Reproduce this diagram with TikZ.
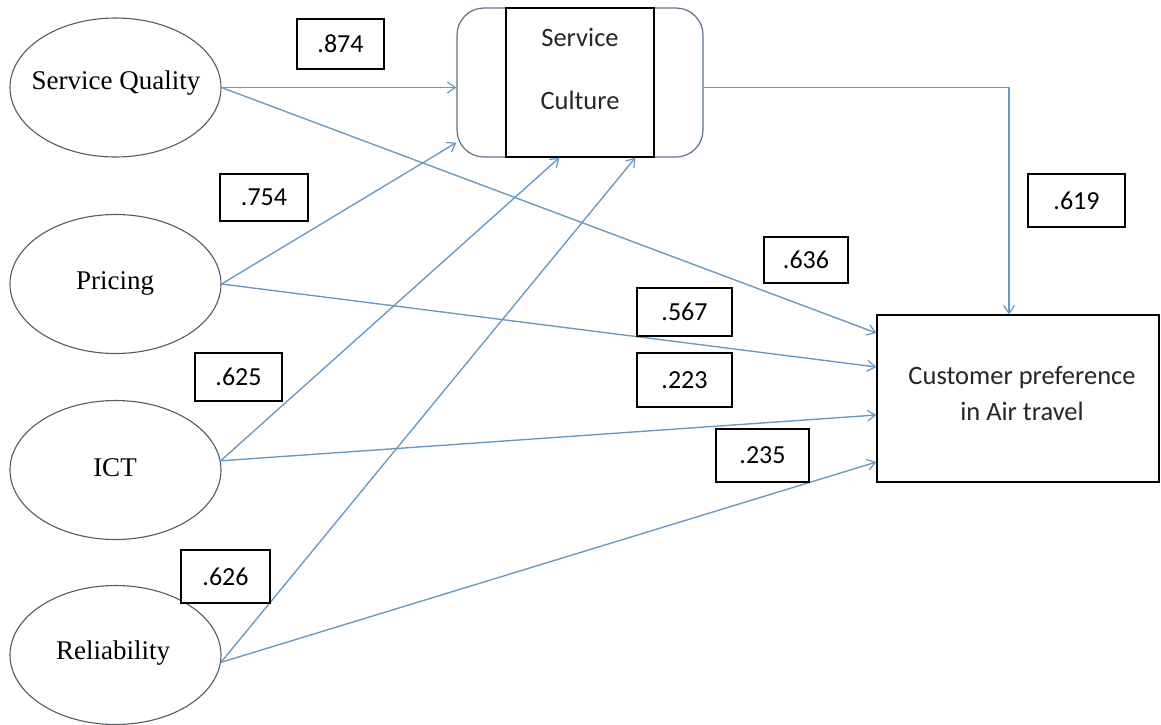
\documentclass[tikz,border=0pt]{standalone}
\usepackage{fontspec}
\setmainfont{Liberation Serif}
\newfontfamily\carl{Carlito}
\usetikzlibrary{shapes.geometric,arrows.meta,calc}
\definecolor{conncol}{RGB}{104,152,196}
\definecolor{ellcol}{RGB}{85,90,100}
\definecolor{sccol}{RGB}{95,115,140}
\begin{document}
\begin{tikzpicture}[x=1pt,y=-1pt,
  ell/.style={draw=ellcol,line width=1.1pt,ellipse,minimum width=211pt,minimum height=139pt,inner sep=0pt},
  elltext/.style={inner sep=0pt,font=\fontsize{27}{32}\selectfont},
  numbox/.style={draw=black,line width=1.3pt,fill=white,inner sep=0pt,font=\carl\fontsize{26}{30}\selectfont},
  lbl/.style={inner sep=0pt,font=\carl\fontsize{26.5}{30}\selectfont,text=black!85},
  conn/.style={draw=conncol,line width=1.35pt,-{Straight Barb[length=8pt,width=11pt,line width=1.2pt]}}
]
\useasboundingbox[fill=white] (0,0) rectangle (1161,724);

% ellipses
\node[ell] (sq)  at (115.5,87.5) {};
\node[ell] (pr)  at (115.5,284)  {};
\node[ell] (ict) at (115.5,470)  {};
\node[ell] (rel) at (115.5,655)  {};
\node[elltext] (sqt)  at (116,83)  {Service Quality};
\node[elltext] (prt)  at (115,283) {Pricing};
\node[elltext] (ictt) at (115,468) {ICT};
\node[elltext] (relt) at (113,653) {Reliability};

% service culture
\node[draw=sccol,line width=1.2pt,rounded corners=27pt,minimum width=246pt,minimum height=149pt,inner sep=0pt] (sc) at (580,82.5) {};
\node[draw=black,line width=1.3pt,minimum width=148pt,minimum height=149pt,inner sep=0pt] (sci) at (580,82.5) {};
\node[lbl] (sct1) at (580,37) {Service};
\node[lbl] (sct2) at (580,100) {Culture};

% customer preference
\node[draw=black,line width=1.3pt,minimum width=282pt,minimum height=167pt,inner sep=0pt] (cp) at (1018,398.5) {};
\node[lbl,align=center,font=\carl\fontsize{26.5}{36}\selectfont] (cpt) at (1022,394) {Customer preference\\in Air travel};

% connectors
\draw[conn] (sq.east) -- (sq.east -| sc.west);
\draw[conn] (sq.east) -- (cp.west |- 0,333);
\draw[conn] (pr.east) -- ($(sc.south west)+(0,-15)$);
\draw[conn] (pr.east) -- (cp.west |- 0,367);
\draw[conn] (ict.5.5) -- ($(sc.south west)+(103,0)$);
\draw[conn] (ict.5.5) -- (cp.west |- 0,415);
\draw[conn] (rel.-4) -- ($(sc.south west)+(179,0)$);
\draw[conn] (rel.-4) -- (cp.west |- 0,462);
\draw[conn] (sc.east |- sq.east) -| ($(cp.north)+(-9,0)$);

% coefficient boxes
\node[numbox,minimum width=87pt,minimum height=50pt] (b874) at (340.5,44) {.874};
\node[numbox,minimum width=88pt,minimum height=47pt] (b754) at (264,197.5) {.754};
\node[numbox,minimum width=87pt,minimum height=48pt] (b625) at (238.5,377) {.625};
\node[numbox,minimum width=89pt,minimum height=53pt] (b626) at (225.5,576.5) {.626};
\node[numbox,minimum width=97pt,minimum height=53pt] (b619) at (1076.5,200.5) {.619};
\node[numbox,minimum width=84pt,minimum height=46pt] (b636) at (806,260) {.636};
\node[numbox,minimum width=95pt,minimum height=48pt] (b567) at (684.5,312) {.567};
\node[numbox,minimum width=95pt,minimum height=54pt] (b223) at (684.5,380) {.223};
\node[numbox,minimum width=93pt,minimum height=53pt] (b235) at (762.5,455.5) {.235};
\end{tikzpicture}
\end{document}
